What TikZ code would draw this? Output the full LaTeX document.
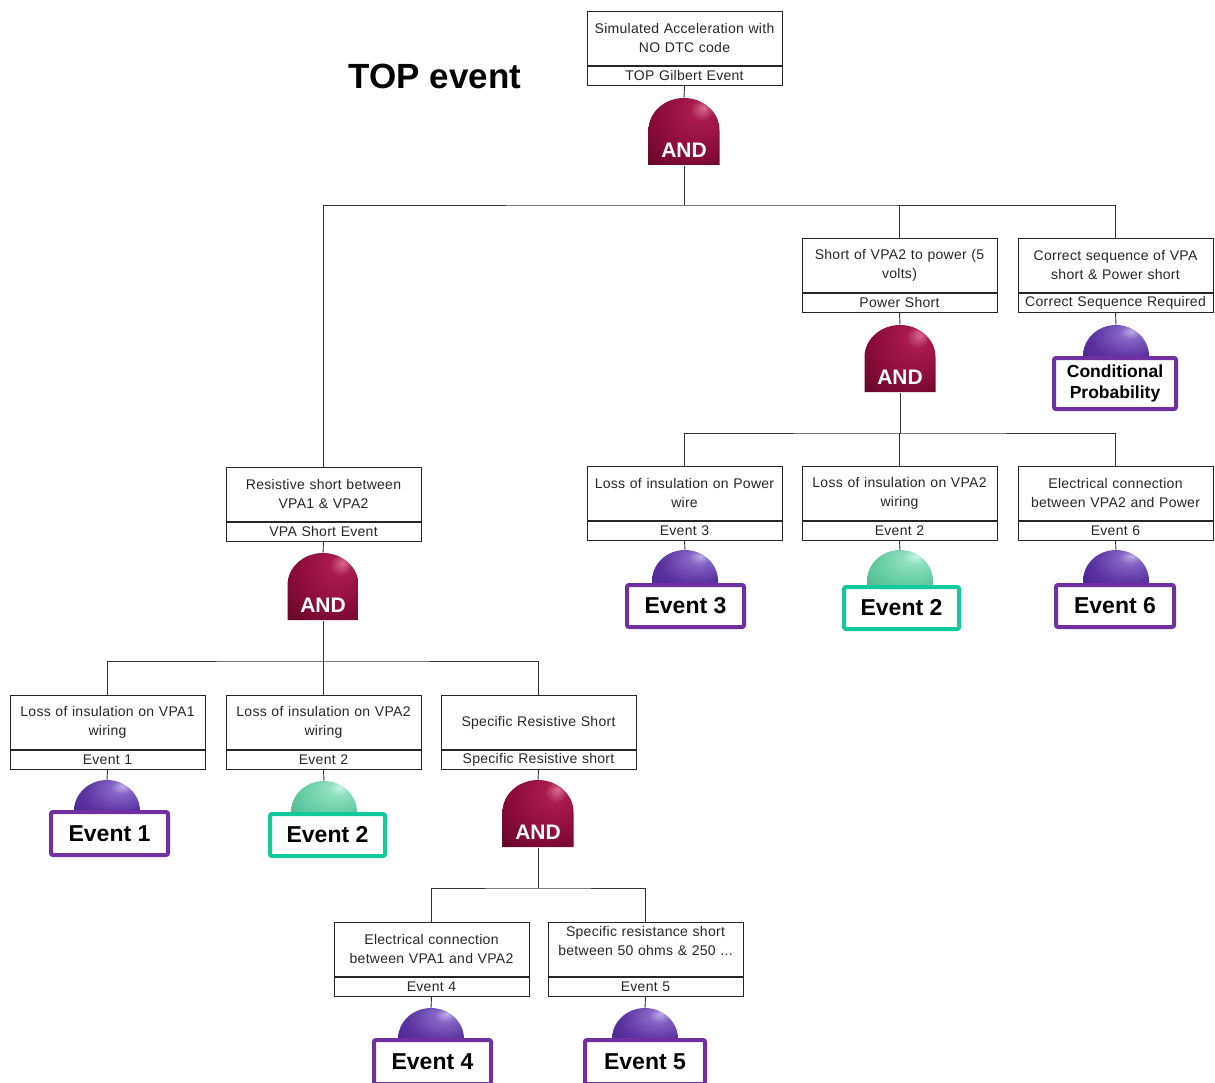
\documentclass[tikz,border=0pt]{standalone}
\usepackage{fontspec}
\setmainfont{Liberation Sans}
\newfontfamily\boxfont[LetterSpace=2]{Liberation Sans}
\definecolor{gatehi}{HTML}{D86C90}
\definecolor{gatemid}{HTML}{A81A4E}
\definecolor{gatemain}{HTML}{8A0C3A}
\definecolor{gatedark}{HTML}{5A0622}
\definecolor{gatedeep}{HTML}{300010}
\definecolor{purhi}{HTML}{C0AEEA}
\definecolor{purmid}{HTML}{8464C4}
\definecolor{purmain}{HTML}{5A32A0}
\definecolor{purdark}{HTML}{3E1E7E}
\definecolor{purdeep}{HTML}{24104E}
\definecolor{grnhi}{HTML}{C8F5E2}
\definecolor{grnmid}{HTML}{8EE0BE}
\definecolor{grnmain}{HTML}{64CCA2}
\definecolor{grndark}{HTML}{42A882}
\definecolor{grndeep}{HTML}{2A7C5E}
\definecolor{lblpurple}{HTML}{7030A0}
\definecolor{lblgreen}{HTML}{12C99B}
\pgfdeclareradialshading{gateshade}{\pgfpoint{14bp}{18bp}}{color(0bp)=(gatehi); color(8bp)=(gatemid); color(28bp)=(gatemain); color(48bp)=(gatedark); color(70bp)=(gatedeep)}
\pgfdeclareradialshading{purshade}{\pgfpoint{12bp}{18bp}}{color(0bp)=(purhi); color(8bp)=(purmid); color(26bp)=(purmain); color(50bp)=(purdark); color(70bp)=(purdeep)}
\pgfdeclareradialshading{grnshade}{\pgfpoint{12bp}{18bp}}{color(0bp)=(grnhi); color(8bp)=(grnmid); color(26bp)=(grnmain); color(50bp)=(grndark); color(70bp)=(grndeep)}
\newcommand{\gateAt}[3]{%
  \node[gatenode] (#1) at (#2,#3) {};
  \shade[shading=gateshade] (#2-35.5,#3+67) -- (#2-35.5,#3+32) arc[start angle=180,end angle=0,x radius=35.5pt,y radius=32pt] -- (#2+35.5,#3+67) -- cycle;
  \node[andtxt] at (#2,#3+52) {AND};
}
\newcommand{\domeAt}[4]{%
  \node[domenode] (#1) at (#2,#3) {};
  \shade[shading=#4] (#2-33,#3+42) -- (#2-33,#3+31) arc[start angle=180,end angle=0,x radius=33pt,y radius=31pt] -- (#2+33,#3+42) -- cycle;
}
\newcommand{\evBox}[5]{%
  \node[txtbox] (#1) at (#2,#3) {#4};
  \node[lblbox] (#1l) at (#1.south) {#5};
}
\begin{document}
\begin{tikzpicture}[x=1pt,y=-1pt,line width=0.8pt,
  txtbox/.style={draw=black!85, fill=white, minimum width=195pt, minimum height=54pt, text width=192pt, align=center, inner sep=0pt, font=\boxfont\fontsize{14}{19}\selectfont, anchor=north, text=black!85},
  lblbox/.style={txtbox, minimum height=19pt, font=\boxfont\fontsize{14}{15}\selectfont},
  gatenode/.style={minimum width=71pt, minimum height=67pt, inner sep=0pt, anchor=north},
  domenode/.style={minimum width=66pt, minimum height=40pt, inner sep=0pt, anchor=north},
  andtxt/.style={text=white, font=\bfseries\fontsize{21}{21}\selectfont, inner sep=0pt},
  evlabel/.style={draw=#1, line width=4pt, fill=white, rounded corners=2pt, inner sep=0pt, align=center, font=\bfseries\fontsize{23}{23}\selectfont, text=black},
  wire/.style={draw=black!80, line width=0.9pt}
]
\fill[white] (0,0) rectangle (1215,1083);
\useasboundingbox (0,0) rectangle (1215,1083);

\node[font=\bfseries\fontsize{35}{35}\selectfont, anchor=base, inner sep=0pt] (title) at (435,89) {TOP event};

% event boxes
\evBox{top}{684.5}{11}{Simulated Acceleration with\\NO DTC code}{TOP Gilbert Event}
\evBox{pow}{899.5}{238}{Short of VPA2 to power (5\\volts)}{Power Short}
\evBox{seq}{1115.5}{238}{Correct sequence of VPA\\short \& Power short}{Correct Sequence Required}
\evBox{eva}{684.5}{466}{Loss of insulation on Power\\wire}{Event 3}
\evBox{evb}{899.5}{466}{Loss of insulation on VPA2\\wiring}{Event 2}
\evBox{evc}{1115.5}{466}{Electrical connection\\between VPA2 and Power}{Event 6}
\evBox{vpa}{323.5}{467}{Resistive short between\\VPA1 \& VPA2}{VPA Short Event}
\evBox{evd}{107.5}{695}{Loss of insulation on VPA1\\wiring}{Event 1}
\evBox{eve}{323.5}{695}{Loss of insulation on VPA2\\wiring}{Event 2}
\evBox{spec}{538.5}{695}{Specific Resistive Short}{Specific Resistive short}
\evBox{evf}{431.5}{922}{Electrical connection\\between VPA1 and VPA2}{Event 4}
\evBox{evg}{645.5}{922}{Specific resistance short\\between 50 ohms \& 250 ...\\[-2pt]\mbox{}}{Event 5}

% gates
\gateAt{g0}{684}{98}
\gateAt{gp}{900}{325}
\gateAt{gv}{323}{553}
\gateAt{gs}{538}{780}

% basic event domes
\domeAt{dseq}{1116}{325}{purshade}
\domeAt{da}{685}{550}{purshade}
\domeAt{db}{900}{550}{grnshade}
\domeAt{dc}{1116}{550}{purshade}
\domeAt{dd}{107}{780}{purshade}
\domeAt{de}{324}{781}{grnshade}
\domeAt{df}{431}{1008}{purshade}
\domeAt{dg}{645}{1008}{purshade}

% connectors
\draw[wire] (topl.south) -- (g0.north);
\coordinate (b0) at (684,205);
\draw[wire] (g0.south) -- (b0);
\draw[wire] (vpa.north) |- (b0) -| (seq.north);
\draw[wire] (pow.north) -- (pow.north |- b0);

\draw[wire] (powl.south) -- (gp.north);
\coordinate (b1) at (900,433);
\draw[wire] (gp.south) -- (b1);
\draw[wire] (eva.north) |- (b1) -| (evc.north);
\draw[wire] (evb.north) -- (evb.north |- b1);
\draw[wire] (seql.south) -- (dseq.north);
\draw[wire] (eval.south) -- (da.north);
\draw[wire] (evbl.south) -- (db.north);
\draw[wire] (evcl.south) -- (dc.north);

\draw[wire] (vpal.south) -- (gv.north);
\coordinate (b2) at (323,661);
\draw[wire] (gv.south) -- (b2);
\draw[wire] (evd.north) |- (b2) -| (spec.north);
\draw[wire] (eve.north) -- (eve.north |- b2);
\draw[wire] (evdl.south) -- (dd.north);
\draw[wire] (evel.south) -- (de.north);

\draw[wire] (specl.south) -- (gs.north);
\coordinate (b3) at (538,888);
\draw[wire] (gs.south) -- (b3);
\draw[wire] (evf.north) |- (b3) -| (evg.north);
\draw[wire] (evfl.south) -- (df.north);
\draw[wire] (evgl.south) -- (dg.north);

% coloured labels
\node[evlabel=lblpurple, minimum width=122pt, minimum height=51pt, font=\bfseries\fontsize{17.5}{21}\selectfont] (lseq) at (1115,383.5) {Conditional\\Probability};
\node[evlabel=lblpurple, minimum width=117pt, minimum height=42pt] (la) at (685.5,606) {Event 3};
\node[evlabel=lblgreen, minimum width=115pt, minimum height=42pt] (lb) at (901.5,608) {Event 2};
\node[evlabel=lblpurple, minimum width=118pt, minimum height=42pt] (lc) at (1115,606) {Event 6};
\node[evlabel=lblpurple, minimum width=117pt, minimum height=43pt] (ld) at (109.5,833.5) {Event 1};
\node[evlabel=lblgreen, minimum width=115pt, minimum height=42pt] (le) at (327.5,835) {Event 2};
\node[evlabel=lblpurple, minimum width=117pt, minimum height=44pt] (lf) at (432.5,1062) {Event 4};
\node[evlabel=lblpurple, minimum width=120pt, minimum height=44pt] (lg) at (645,1062) {Event 5};
\end{tikzpicture}
\end{document}
